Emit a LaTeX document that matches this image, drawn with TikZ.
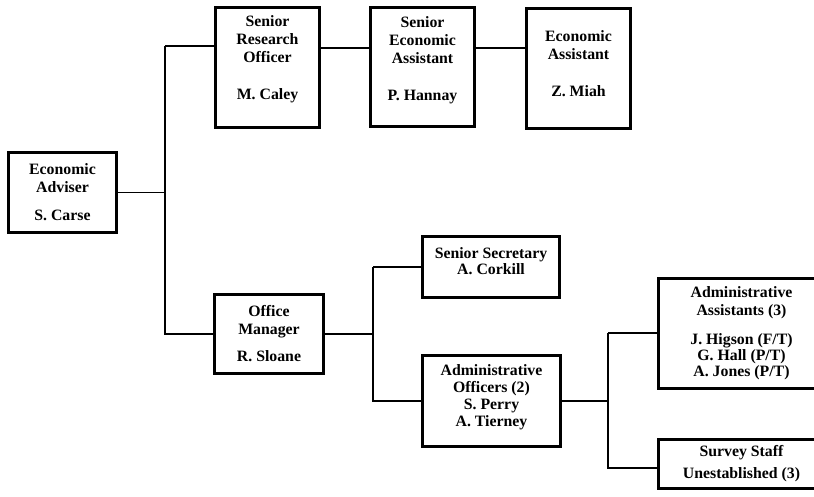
\documentclass[tikz,border=0pt]{standalone}
\usepackage{fontspec}
\setmainfont{Liberation Serif}

\begin{document}
\begin{tikzpicture}[x=1pt, y=-1pt,
    box/.style={rectangle, draw, line width=2.7pt, align=center, inner sep=0pt,
                font=\fontsize{15.8}{18}\selectfont\bfseries},
    link/.style={line width=1.2pt}
]
    \path[use as bounding box, clip] (0,0) rectangle (814,497);

    % Nodes
    \node[box, minimum width=108pt, minimum height=80pt]  (adviser)    at (62.5,192.5) {Economic\\Adviser\\[10pt]S. Carse};
    \node[box, minimum width=104pt, minimum height=120pt] (research)   at (267.5,67.5) {Senior\\Research\\Officer\\[19pt]M. Caley\\[2pt]\mbox{}};
    \node[box, minimum width=104pt, minimum height=119pt] (seniorecon) at (422.5,67)   {Senior\\Economic\\Assistant\\[19pt]P. Hannay\\[-2pt]\mbox{}};
    \node[box, minimum width=104pt, minimum height=120pt] (econ)       at (578.5,68.5) {Economic\\Assistant\\[19pt]Z. Miah\\[-8pt]\mbox{}};
    \node[box, minimum width=109pt, minimum height=79pt]  (manager)    at (269,334)    {Office\\Manager\\[9pt]R. Sloane};
    \node[box, minimum width=137pt, minimum height=61pt]  (secretary)  at (491,267)    {Senior Secretary\\[-2pt]A. Corkill\\[-6pt]\mbox{}};
    \node[box, minimum width=138pt, minimum height=91pt]  (officers)   at (491.5,401)  {Administrative\\[-1pt]Officers (2)\\[-1pt]S. Perry\\[-1pt]A. Tierney\\[-8pt]\mbox{}};
    \node[box, minimum width=166pt, minimum height=110pt] (assistants) at (741.5,333.5) {Administrative\\Assistants (3)\\[11pt]J. Higson (F/T)\\[-2pt]G. Hall (P/T)\\[-2pt]A. Jones (P/T)};
    \node[box, minimum width=166pt, minimum height=49pt]  (survey)     at (741.5,464)  {Survey Staff\\[4pt]Unestablished (3)};

    % Lines
    \coordinate (spineA) at (165,46);
    \coordinate (spineB) at (373,267);
    \coordinate (spineC) at (608,333);
    \coordinate (upper)  at (0,48);

    \draw[link] (adviser.east) -- (adviser.east -| spineA);
    \draw[link] (spineA) -- (spineA |- manager.west) -- (manager.west);
    \draw[link] (spineA) -- (spineA -| research.west);
    \draw[link] (research.east |- upper) -- (seniorecon.west |- upper);
    \draw[link] (seniorecon.east |- upper) -- (econ.west |- upper);

    \draw[link] (manager.east) -- (manager.east -| spineB);
    \draw[link] (spineB) -- (secretary.west);
    \draw[link] (spineB) -- (spineB |- officers.west) -- (officers.west);

    \draw[link] (officers.east) -- (officers.east -| spineC);
    \draw[link] (spineC) -- (assistants.west |- spineC);
    \draw[link] (spineC) -- (spineC |- 0,468) -- (survey.west |- 0,468);
\end{tikzpicture}
\end{document}
